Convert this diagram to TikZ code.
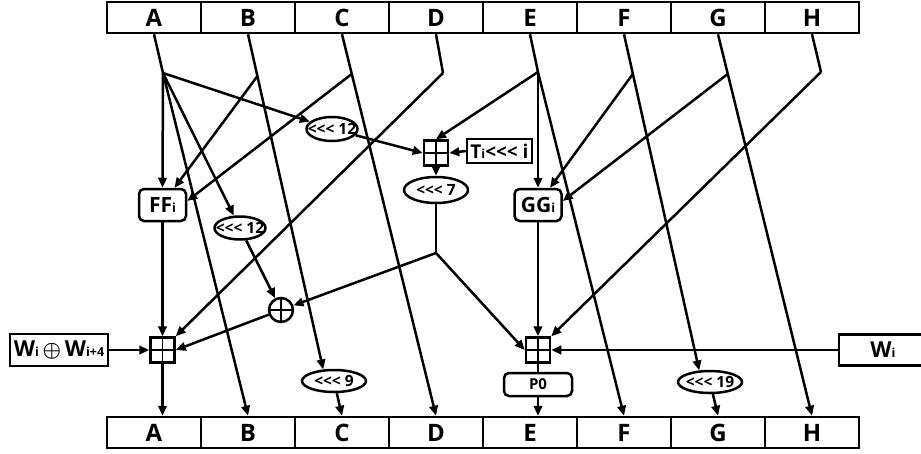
\documentclass[tikz,border=0pt]{standalone}
\usepackage{amsmath}
\usepackage{fontspec}
\setmainfont{Open Sans}[Ligatures=TeXOff]
\usetikzlibrary{arrows.meta,shapes.geometric,calc}
\begin{document}
\begin{tikzpicture}[x=1pt,y=-1pt,
  lw/.style={line width=2.5pt},
  ln/.style={lw},
  ar/.style={lw,-{Triangle[length=10pt,width=8.5pt]}},
  reg/.style={draw,lw,minimum width=94pt,minimum height=31pt,inner sep=0pt,font=\fontsize{24}{24}\selectfont\bfseries},
  rot/.style={draw,ellipse,lw,inner sep=0pt,minimum width=64pt,minimum height=22pt,font=\fontsize{15.5}{15.5}\selectfont\bfseries},
  func/.style={draw,lw,rounded corners=5pt,inner sep=0pt,minimum width=47pt,minimum height=32pt,font=\fontsize{21}{21}\selectfont\bfseries},
  sbox/.style={draw,lw,inner sep=0pt,font=\fontsize{19}{19}\selectfont\bfseries},
  adder/.style={draw,lw,inner sep=0pt,minimum width=24pt,minimum height=25pt,
    path picture={\draw[line width=1.8pt] (path picture bounding box.north) -- (path picture bounding box.south)
      (path picture bounding box.west) -- (path picture bounding box.east);}},
  xorc/.style={draw,circle,lw,inner sep=0pt,minimum size=24pt,
    path picture={\draw[line width=2pt] (path picture bounding box.north) -- (path picture bounding box.south)
      (path picture bounding box.west) -- (path picture bounding box.east);}}
  ]
\useasboundingbox (0,0) rectangle (921,453);
\newcommand{\smi}[1]{{\fontsize{12.5}{12.5}\selectfont #1}}
\newcommand{\rtxt}[1]{\makebox[0pt]{#1}}
% registers
\foreach \l [count=\i from 0] in {A,B,C,D,E,F,G,H} {
  \node[reg] (t\l) at (154+94*\i,17.5) {\l};
  \node[reg] (b\l) at (154+94*\i,432.5) {\l};
}
% functional nodes
\node[func] (FF) at (162.5,205) {FF\smi{i}};
\node[func] (GG) at (538,205) {GG\smi{i}};
\node[adder] (addL) at (162.5,350) {};
\node[adder] (addU) at (436,153) {};
\node[adder] (addR) at (538,350) {};
\node[xorc] (xor) at (281,310) {};
\node[rot,minimum width=51pt,minimum height=24pt] (rotA) at (332,129) {\rtxt{<<< 12}};
\node[rot,minimum width=51pt,minimum height=23pt] (rotB) at (240,228) {\rtxt{<<< 12}};
\node[rot,minimum height=26pt] (rot7) at (436,190) {\rtxt{<<< 7}};
\node[rot] (rot9) at (334,381) {\rtxt{<<< 9}};
\node[rot] (rot19) at (710,382) {\rtxt{<<< 19}};
\node[sbox,minimum width=65pt,minimum height=24pt] (Ti) at (499.5,151) {T\smi{i}<<< i};
\node[func,minimum width=68pt,minimum height=23pt,font=\fontsize{15}{15}\selectfont\bfseries] (P0) at (538,384.5) {P0};
\node[sbox,minimum width=98pt,minimum height=32pt,font=\fontsize{22}{22}\selectfont\bfseries] (WW) at (59,350) {W\smi{i}\,{\fontsize{22}{22}\selectfont$\boldsymbol{\oplus}$}\,W\smi{i+4}};
\node[sbox,minimum width=88pt,minimum height=31pt,font=\fontsize{22}{22}\selectfont\bfseries] (Wi) at (883,350) {W\smi{i}};
% branch points
\coordinate (kA) at (163,73);
\coordinate (kD) at (443,73);
\coordinate (kE) at (538,72);
\coordinate (kH) at (821,72);
\coordinate (kM) at (436,253);
% A
\draw[ln] (tA.south) -- (kA);
\draw[ar] (kA) -- (FF.north);
\draw[ar] (kA) -- (rotA);
\draw[ar] (kA) -- (rotB);
\draw[ar] (kA) -- (bB.north);
% B
\draw[ar] (tB.south) -- (rot9.133);
\coordinate (kB) at ($(tB.south)!0.125!(rot9.133)$);
\draw[ar] (kB) -- ($(FF.north)+(12,0)$);
% C
\draw[ar] (tC.south) -- (bD.north);
\coordinate (kC) at ($(tC.south)!0.104!(bD.north)$);
\draw[ar] (kC) -- ($(FF.east)+(0,-4)$);
% D
\draw[ln] (tD.south) -- (kD);
\draw[ar] (kD) -- (addL.north east);
% E
\draw[ln] (tE.south) -- (kE);
\draw[ar] (kE) -- (GG.north);
\draw[ar] (kE) -- (addU.north);
\draw[ar] (kE) -- (bF.north);
% F
\draw[ar] (tF.south) -- (rot19.133);
\coordinate (kF) at ($(tF.south)!0.118!(rot19.133)$);
\draw[ar] (kF) -- ($(GG.north)+(12,0)$);
% G
\draw[ar] (tG.south) -- (bH.north);
\coordinate (kG) at ($(tG.south)!0.104!(bH.north)$);
\draw[ar] (kG) -- ($(GG.east)+(0,-4)$);
% H
\draw[ln] (tH.south) -- (kH);
\draw[ar] (kH) -- (addR.north east);
% left column
\draw[ar] (FF.south) -- (addL.north);
\draw[ar] (addL.south) -- (addL.south |- bA.north);
\draw[ar] (WW.east) -- (addL.west);
\draw[ar] (xor) -- (addL.east);
\draw[ar] (rotB) -- (xor);
% middle
\draw[ar] (rotA) -- (addU.west);
\draw[ar] (Ti.west) -- (addU.east);
\draw[ar] (addU.south) -- (rot7.north);
\draw[ln] (rot7.south) -- (kM);
\draw[ar] (kM) -- (xor);
\draw[ar] (kM) -- (addR.west);
% right column
\draw[ar] (GG.south) -- (addR.north);
\draw[ln] (addR.south) -- (P0.north);
\draw[ar] (P0.south) -- (P0.south |- bE.north);
\draw[ar] (Wi.west) -- (addR.east);
\draw[ar] (rot9) -- (bC.north);
\draw[ar] (rot19) -- (bG.north);
\end{tikzpicture}
\end{document}
